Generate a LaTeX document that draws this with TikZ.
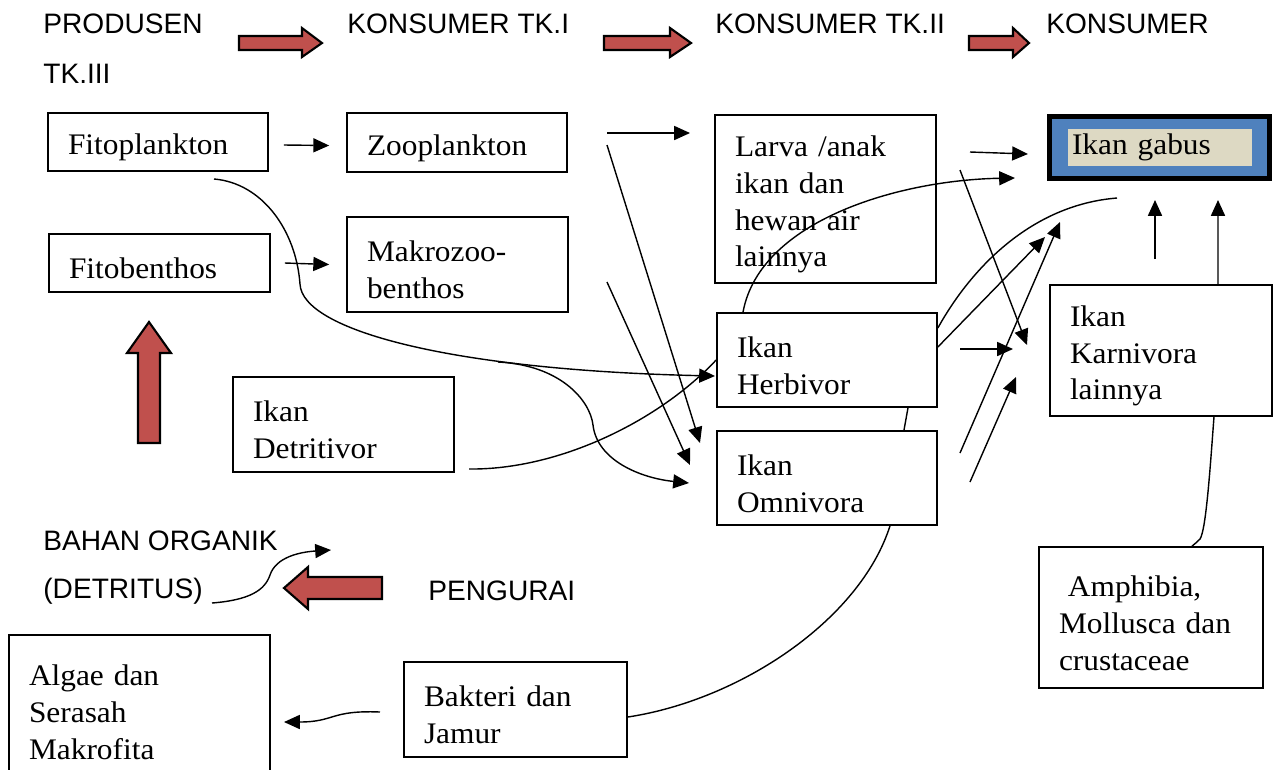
\documentclass[tikz,border=0pt]{standalone}
\usepackage{fontspec}
\setmainfont{Liberation Serif}[FakeStretch=1.05]
\newfontfamily\headfont{Liberation Sans}
\usetikzlibrary{arrows.meta}
\definecolor{arrowred}{HTML}{C0504D}
\definecolor{gabusblue}{HTML}{4F81BD}
\definecolor{gabusbeige}{HTML}{DDD9C3}
\tikzset{
  box/.style={draw, line width=1pt, align=left, inner xsep=0.4cm, inner ysep=0pt,
    font=\fontsize{17pt}{21pt}\selectfont, execute at begin node=\rule{0pt}{18pt}},
  lbl/.style={anchor=base west, inner sep=0pt, font=\headfont\fontsize{16pt}{19pt}\selectfont},
  arr/.style={-{Triangle[length=9pt,width=8pt]}, line width=0.8pt},
  link/.style={line width=0.8pt},
  bigarrow/.style={fill=arrowred, draw=black, line width=1.2pt, line join=miter}
}
\begin{document}
\begin{tikzpicture}[x=0.02cm, y=-0.02cm]
  \useasboundingbox (0,0) rectangle (1276,769);
  \clip (0,0) rectangle (1276,769);
  % judul tingkat
  \node[lbl] (prod) at (43,33) {PRODUSEN};
  \node[lbl] (tkiii) at (43,83) {TK.III};
  \node[lbl] (kons1) at (347,33) {KONSUMER TK.I};
  \node[lbl] (kons2) at (715,33) {KONSUMER TK.II};
  \node[lbl] (kons3) at (1046,33) {KONSUMER};
  \node[lbl] (bahan) at (43,550) {BAHAN ORGANIK};
  \node[lbl] (detritus) at (43,598) {(DETRITUS)};
  \node[lbl] (pengurai) at (428,600) {PENGURAI};
  % panah merah
  \foreach \a/\b/\c in {239/302/322, 604/670/691, 969/1013/1029}
    \draw[bigarrow] (\a,36) -- (\b,36) -- (\b,28) -- (\c,43) -- (\b,57) -- (\b,50) -- (\a,50) -- cycle;
  \draw[bigarrow] (382,577) -- (308,577) -- (308,567) -- (284,588) -- (308,609) -- (308,599) -- (382,599) -- cycle;
  \draw[bigarrow] (138,443) -- (138,353) -- (127,353) -- (149,322) -- (171,353) -- (160,353) -- (160,443) -- cycle;
  % kotak
  \node[box, text width=3.6cm, minimum height=1.16cm] (fito) at (158,142) {Fitoplankton};
  \node[box, text width=3.62cm, minimum height=1.16cm] (fitob) at (159.5,263) {Fitobenthos};
  \node[box, text width=3.6cm, minimum height=1.18cm] (zoo) at (457,142.5) {Zooplankton};
  \node[box, text width=3.62cm, minimum height=1.9cm] (makro) at (457.5,264.5) {Makrozoo-\\benthos};
  \node[box, text width=3.62cm, minimum height=3.36cm] (larva) at (825.5,199) {Larva /anak\\ikan dan\\hewan air\\lainnya};
  \node[box, text width=3.6cm, minimum height=1.88cm] (herb) at (827,360) {Ikan\\Herbivor};
  \node[box, text width=3.6cm, minimum height=1.88cm] (omni) at (827,478) {Ikan\\Omnivora};
  \node[box, text width=3.62cm, minimum height=1.9cm] (detr) at (343.5,424.5) {Ikan\\Detritivor};
  \node[box, text width=3.64cm, minimum height=2.62cm] (karn) at (1161,350.5) {Ikan\\Karnivora\\lainnya};
  \node[box, text width=3.68cm, minimum height=2.82cm] (amph) at (1151,617.5) {\hspace{0.3em}Amphibia,\\Mollusca dan\\crustaceae};
  \node[box, text width=4.42cm, minimum height=2.88cm] (algae) at (139.5,707) {Algae dan\\Serasah\\Makrofita};
  \node[box, text width=3.66cm, minimum height=1.9cm] (bakteri) at (515.5,709.5) {Bakteri dan\\Jamur};
  \node[draw=black, line width=2.8pt, fill=gabusblue, minimum width=4.4cm, minimum height=1.24cm] (gabus) at (1159.5,147.5) {};
  \node[fill=gabusbeige, text width=3.52cm, inner xsep=0.08cm, inner ysep=0pt, minimum height=0.74cm, align=left,
    font=\fontsize{17pt}{21pt}\selectfont] (gabustxt) at (1160,147.5) {Ikan gabus};
  % ujung bebas
  \coordinate (fitoS) at (214,179);
  \coordinate (zooA) at (607,133);
  \coordinate (larvaA) at (690,133);
  \coordinate (zooB) at (607,145);
  \coordinate (omniA) at (700,443);
  \coordinate (makroA) at (607,282);
  \coordinate (omniB) at (690,465);
  \coordinate (herbW) at (715,376);
  \coordinate (detrA) at (498,362);
  \coordinate (omniC) at (689,483);
  \coordinate (detrS) at (469,469);
  \coordinate (larvaE) at (970,152);
  \coordinate (gabusA) at (1028,154);
  \coordinate (gabusB) at (1015,178);
  \coordinate (larvaF) at (960,170);
  \coordinate (karnA) at (1027,345);
  \coordinate (gabusC) at (1117,198);
  \coordinate (gabusD) at (1045,237);
  \coordinate (omniD) at (960,453);
  \coordinate (gabusE) at (1060,222);
  \coordinate (herbE) at (960,349);
  \coordinate (karnB) at (1013,349);
  \coordinate (omniE) at (970,482);
  \coordinate (karnC) at (1016,377);
  \coordinate (gabusF) at (1155,259);
  \coordinate (gabusG) at (1155,200);
  \coordinate (gabusH) at (1218,200);
  \coordinate (bakA) at (380,712);
  \coordinate (algaeA) at (284,722);
  \coordinate (detS) at (212,603);
  \coordinate (detE) at (331,550);
  % hubungan
  \draw[arr] ([xshift=0.3cm,yshift=-0.06cm]fito.east) -- ([xshift=-0.34cm,yshift=-0.06cm]zoo.west);
  \draw[arr] ([xshift=0.28cm]fitob.east) -- ([xshift=-0.34cm]makro.west);
  \draw[arr] (zooA) -- (larvaA);
  \draw[arr] (zooB) -- (omniA);
  \draw[arr] (makroA) -- (omniB);
  \draw[arr] (fitoS) .. controls (262,183) and (296,230) .. (300,284)
    .. controls (302,330) and (450,370) .. (herbW);
  \draw[arr] (detrA) .. controls (560,365) and (590,400) .. (593,425)
    .. controls (597,460) and (640,478) .. (omniC);
  \draw[link] (detrS) .. controls (560,470) and (660,420) .. (herb.west);
  \draw[arr] (larvaE) -- (gabusA);
  \draw[arr] ([xshift=-1.68cm]herb.north) .. controls (760,220) and (900,180) .. (gabusB);
  \draw[arr] (larvaF) -- (karnA);
  \draw[link] (gabusC) .. controls (1030,205) and (970,270) .. ([yshift=0.64cm]herb.east);
  \draw[arr] ([yshift=0.26cm]herb.east) -- (gabusD);
  \draw[arr] (omniD) -- (gabusE);
  \draw[arr] (herbE) -- (karnB);
  \draw[arr] (omniE) -- (karnC);
  \draw[link] ([xshift=1.62cm]herb.south) -- ([xshift=1.54cm]omni.north);
  \draw[link] ([xshift=1.26cm]omni.south) .. controls (860,620) and (740,700) .. ([yshift=-0.15cm]bakteri.east);
  \draw[arr] (bakA) .. controls (330,710) and (335,722) .. (algaeA);
  \draw[arr] (detS) .. controls (250,600) and (265,590) .. (270,575)
    .. controls (276,557) and (300,552) .. (detE);
  \draw[arr] (gabusF) -- (gabusG);
  \draw[arr] ([xshift=1.14cm]karn.north) -- (gabusH);
  \draw[link] ([xshift=1.06cm]karn.south) .. controls (1210,470) and (1206,530) .. (1200,539)
    .. controls (1197,542) .. ([xshift=0.82cm]amph.north);
\end{tikzpicture}
\end{document}
